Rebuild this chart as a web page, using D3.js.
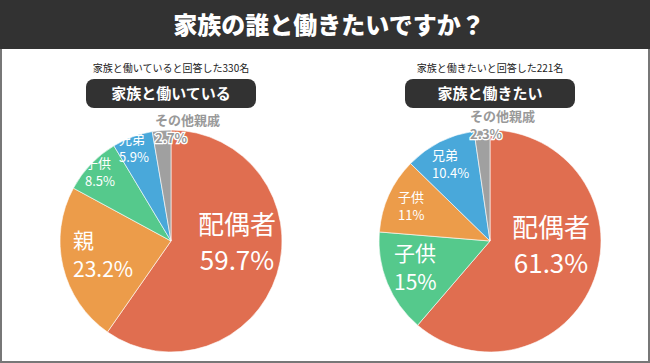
<!DOCTYPE html>
<html lang="ja">
  <head>
    <meta charset="UTF-8" />
    <script src="https://d3js.org/d3.v7.min.js"></script>
    <title>家族の誰と働きたいですか？</title>
    <style>
      body { margin: 0; background: #fff; }
      text { font-family: 'Noto Sans CJK JP', 'Noto Sans', sans-serif; }
    </style>
  </head>
  <body>
    <div id="chart"></div>
    <script>
      // data
      const leftLabels = ['配偶者', '親', '子供', '兄弟', 'その他親戚']
      const leftValues = [59.7, 23.2, 8.5, 5.9, 2.7]
      const rightLabels = ['配偶者', '子供', '子供', '兄弟', 'その他親戚']
      const rightValues = [61.3, 15, 11, 10.4, 2.3]
      const sliceColors = {
        left: ['#e06e50', '#ec9c4a', '#55c98c', '#49a8da', '#a0a0a0'],
        right: ['#e06e50', '#55c98c', '#ec9c4a', '#49a8da', '#a0a0a0']
      }

      const width = 650,
        height = 363

      const svg = d3
        .select('#chart')
        .append('svg')
        .attr('width', width)
        .attr('height', height)

      // frame
      svg.append('rect')
        .attr('x', 1).attr('y', 1)
        .attr('width', width - 2).attr('height', height - 2)
        .attr('fill', '#fff')
        .attr('stroke', '#777').attr('stroke-width', 2)

      // title bar
      svg.append('rect')
        .attr('x', 0).attr('y', 0)
        .attr('width', width).attr('height', 49)
        .attr('fill', '#323232')
      svg.append('text')
        .attr('x', 329).attr('y', 34)
        .attr('text-anchor', 'middle')
        .attr('fill', '#fff')
        .attr('font-size', 24)
        .attr('font-weight', 900)
        .text('家族の誰と働きたいですか？')

      const r = 111

      // label layout for each slice: [x, y, size, anchor] (relative to pie centre)
      const panels = [
        {
          cx: 171, cy: 241,
          labels: leftLabels, values: leftValues, colors: sliceColors.left,
          note: '家族と働いていると回答した330名', badge: '家族と働いている',
          pos: [
            [66, -7, 26, 'middle'],
            [-98, 7, 21, 'start'],
            [-86, -73, 13, 'start'],
            [-52, -97, 13, 'start'],
            [-16, -116, 13, 'start']
          ]
        },
        {
          cx: 490, cy: 241,
          labels: rightLabels, values: rightValues, colors: sliceColors.right,
          note: '家族と働きたいと回答した221名', badge: '家族と働きたい',
          pos: [
            [61, -4, 26, 'middle'],
            [-96, 20, 21, 'start'],
            [-92, -39, 13, 'start'],
            [-58, -81, 13, 'start'],
            [-20, -120, 13, 'start']
          ]
        }
      ]

      panels.forEach(p => {
        const g = svg.append('g').attr('transform', `translate(${p.cx}, ${p.cy})`)

        // heading
        g.append('text')
          .attr('x', 0).attr('y', -169)
          .attr('text-anchor', 'middle')
          .attr('font-size', 10)
          .attr('fill', '#222')
          .text(p.note)
        g.append('rect')
          .attr('x', -85).attr('y', -162)
          .attr('width', 170).attr('height', 29)
          .attr('rx', 8)
          .attr('fill', '#323232')
        g.append('text')
          .attr('x', 0).attr('y', -142)
          .attr('text-anchor', 'middle')
          .attr('font-size', 15)
          .attr('font-weight', 700)
          .attr('fill', '#fff')
          .text(p.badge)

        const pie = d3.pie().sort(null).value(d => d)
        const arc = d3.arc().innerRadius(0).outerRadius(r)

        g.selectAll('path')
          .data(pie(p.values))
          .join('path')
          .attr('d', arc)
          .attr('fill', (d, i) => p.colors[i])
          .attr('stroke', '#fff')
          .attr('stroke-width', 0.6)

        // labels
        p.labels.forEach((lab, i) => {
          const [x, y, size, anchor] = p.pos[i]
          const other = i === p.labels.length - 1
          const t = g.append('text')
            .attr('x', x).attr('y', y)
            .attr('text-anchor', anchor)
            .attr('font-size', size)
            .attr('fill', other ? '#999' : '#fff')
          if (other) {
            t.attr('stroke', '#fff').attr('stroke-width', 2.5)
              .attr('paint-order', 'stroke').attr('font-weight', 700)
          }
          t.append('tspan').attr('x', x).text(lab)
          t.append('tspan').attr('x', x).attr('dy', size * 1.4)
            .text(p.values[i] + '%')
        })
      })
    </script>
  </body>
</html>
